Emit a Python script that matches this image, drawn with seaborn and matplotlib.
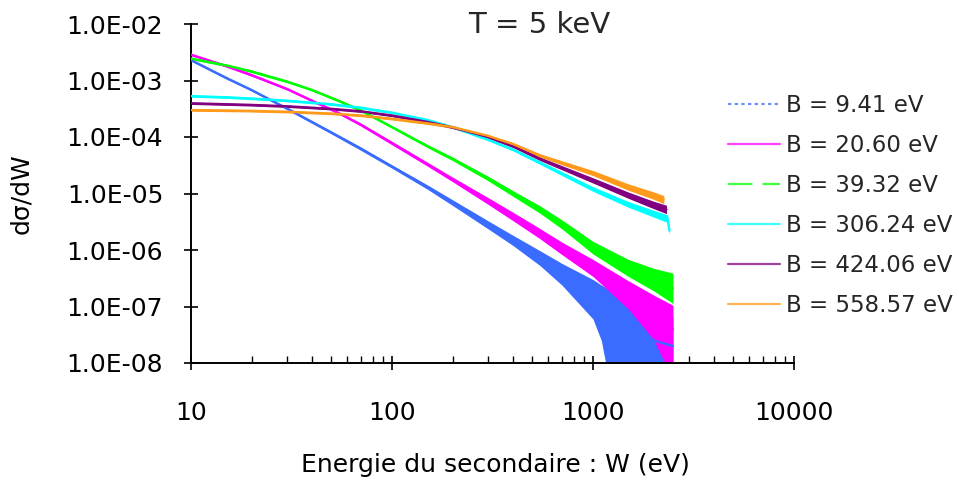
import numpy as np
import pandas as pd
import matplotlib
matplotlib.use("Agg")
import matplotlib.pyplot as plt
import seaborn as sns
from matplotlib.lines import Line2D
from matplotlib.ticker import LogLocator, FixedLocator, NullFormatter

# ---------------- data ----------------
labels = ["B = 9.41 eV", "B = 20.60 eV", "B = 39.32 eV",
          "B = 306.24 eV", "B = 424.06 eV", "B = 558.57 eV"]
colors = ["#3a6cff", "#ff00ff", "#00ff00", "#00ffff", "#800080", "#ff9a1a"]

blue_W = [10, 15, 20, 30, 50, 70, 100, 150, 200, 300, 400, 545, 700, 1000, 1100, 1200, 1500, 2000, 2500]
blue = [2.3e-3, 1.11e-3, 6.8e-4, 3.2e-4, 1.2e-4, 6.2e-5, 3.0e-5, 1.3e-5, 6.9e-6, 2.8e-6, 1.48e-6,
        7.2e-7, 3.9e-7, 1.6e-7, 1.15e-7, 8.5e-8, 4e-8, 2.5e-8, 2e-8]
blue_lo = [2.2e-3, 1.06e-3, 6.5e-4, 3.05e-4, 1.13e-4, 5.8e-5, 2.8e-5, 1.19e-5, 6.15e-6, 2.38e-6, 1.2e-6,
           5.3e-7, 2.4e-7, 6e-8, 2.5e-8, 5e-9, 5e-9, 5e-9, 5e-9]
blue_hi = [2.4e-3, 1.16e-3, 7.1e-4, 3.35e-4, 1.27e-4, 6.65e-5, 3.2e-5, 1.42e-5, 7.75e-6, 3.3e-6, 1.82e-6,
           9.7e-7, 5.8e-7, 3.0e-7, 2.4e-7, 2.0e-7, 1.2e-7, 8e-8, 6.5e-8]

mag_W = [10, 15, 20, 30, 40, 55, 70, 100, 150, 200, 300, 400, 545, 700, 1000, 1500, 2000, 2500]
mag = [2.87e-3, 1.8e-3, 1.25e-3, 7.1e-4, 4.4e-4, 2.6e-4, 1.65e-4, 7.8e-5, 3.3e-5, 1.78e-5, 7.4e-6,
       3.9e-6, 1.95e-6, 1.07e-6, 4.8e-7, 1.6e-7, 7.2e-8, 4e-8]
mag_lo = [2.74e-3, 1.72e-3, 1.19e-3, 6.8e-4, 4.2e-4, 2.48e-4, 1.56e-4, 7.28e-5, 3.05e-5, 1.62e-5, 6.45e-6,
          3.3e-6, 1.58e-6, 8.3e-7, 3.4e-7, 9e-8, 2.6e-8, 5e-9]
mag_hi = [3.0e-3, 1.88e-3, 1.31e-3, 7.45e-4, 4.6e-4, 2.72e-4, 1.75e-4, 8.35e-5, 3.57e-5, 1.95e-5, 8.5e-6,
          4.65e-6, 2.4e-6, 1.38e-6, 6.8e-7, 2.85e-7, 1.6e-7, 1.05e-7]

green_W = [10, 15, 20, 30, 40, 55, 70, 100, 150, 200, 300, 400, 545, 700, 1000, 1500, 2000, 2500]
green = [2.45e-3, 1.85e-3, 1.45e-3, 9.6e-4, 6.8e-4, 4.3e-4, 2.95e-4, 1.5e-4, 6.9e-5, 4.1e-5, 1.85e-5,
         1.0e-5, 5.2e-6, 2.85e-6, 1.1e-6, 4.8e-7, 3.0e-7, 2.1e-7]
green_lo = [2.34e-3, 1.77e-3, 1.38e-3, 9.15e-4, 6.5e-4, 4.1e-4, 2.82e-4, 1.43e-4, 6.5e-5, 3.83e-5, 1.69e-5,
            8.9e-6, 4.47e-6, 2.37e-6, 8.5e-7, 3.4e-7, 1.9e-7, 1.13e-7]
green_hi = [2.57e-3, 1.94e-3, 1.52e-3, 1.0e-3, 7.1e-4, 4.5e-4, 3.09e-4, 1.57e-4, 7.3e-5, 4.4e-5, 2.03e-5,
            1.12e-5, 6.05e-6, 3.42e-6, 1.42e-6, 6.8e-7, 4.75e-7, 3.9e-7]

cyan_W = [10, 15, 20, 30, 50, 70, 100, 150, 200, 300, 400, 545, 1000, 1500, 2000, 2350, 2400]
cyan = [5.3e-4, 5.05e-4, 4.8e-4, 4.4e-4, 3.8e-4, 3.3e-4, 2.7e-4, 2.0e-4, 1.5e-4, 9.0e-5, 6.0e-5,
        3.5e-5, 1.2e-5, 6.4e-6, 4.4e-6, 3.6e-6, 2.2e-6]
cyan_lo = [5.06e-4, 4.82e-4, 4.58e-4, 4.2e-4, 3.63e-4, 3.15e-4, 2.58e-4, 1.91e-4, 1.43e-4, 8.6e-5, 5.66e-5,
           3.27e-5, 1.09e-5, 5.7e-6, 3.83e-6, 3.06e-6, 1.83e-6]
cyan_hi = [5.55e-4, 5.29e-4, 5.03e-4, 4.61e-4, 3.98e-4, 3.46e-4, 2.83e-4, 2.09e-4, 1.57e-4, 9.4e-5, 6.35e-5,
           3.75e-5, 1.32e-5, 7.2e-6, 5.05e-6, 4.2e-6, 2.65e-6]

purple_W = [10, 20, 30, 50, 70, 100, 150, 200, 300, 400, 545, 1000, 1500, 2000, 2320]
purple = [3.95e-4, 3.7e-4, 3.5e-4, 3.15e-4, 2.85e-4, 2.4e-4, 1.85e-4, 1.48e-4, 1.0e-4, 6.9e-5, 4.1e-5,
          1.7e-5, 9.3e-6, 6.3e-6, 5.2e-6]
purple_lo = [3.77e-4, 3.53e-4, 3.34e-4, 3.01e-4, 2.72e-4, 2.29e-4, 1.77e-4, 1.41e-4, 9.55e-5, 6.5e-5, 3.83e-5,
             1.53e-5, 8.2e-6, 5.4e-6, 4.4e-6]
purple_hi = [4.14e-4, 3.87e-4, 3.66e-4, 3.3e-4, 2.98e-4, 2.51e-4, 1.94e-4, 1.55e-4, 1.05e-4, 7.3e-5, 4.4e-5,
             1.9e-5, 1.06e-5, 7.3e-6, 6.2e-6]

orange_W = [10, 20, 30, 50, 70, 100, 150, 200, 300, 400, 545, 1000, 1500, 2000, 2250]
orange = [3.0e-4, 2.9e-4, 2.8e-4, 2.6e-4, 2.4e-4, 2.1e-4, 1.75e-4, 1.5e-4, 1.05e-4, 7.5e-5, 4.7e-5,
          2.3e-5, 1.3e-5, 9.2e-6, 7.8e-6]
orange_lo = [2.86e-4, 2.77e-4, 2.67e-4, 2.48e-4, 2.29e-4, 2.0e-4, 1.67e-4, 1.43e-4, 1.0e-4, 7.08e-5, 4.39e-5,
             2.07e-5, 1.14e-5, 7.9e-6, 6.6e-6]
orange_hi = [3.14e-4, 3.04e-4, 2.93e-4, 2.72e-4, 2.51e-4, 2.2e-4, 1.83e-4, 1.57e-4, 1.1e-4, 7.95e-5, 5.03e-5,
             2.55e-5, 1.48e-5, 1.07e-5, 9.2e-6]

x_ticks = [10, 100, 1000, 10000]
x_ticklabels = ["10", "100", "1000", "10000"]
y_ticks = [1e-8, 1e-7, 1e-6, 1e-5, 1e-4, 1e-3, 1e-2]
y_ticklabels = ["1.0E-08", "1.0E-07", "1.0E-06", "1.0E-05", "1.0E-04", "1.0E-03", "1.0E-02"]

series = [
    (blue_W, blue, blue_lo, blue_hi),
    (mag_W, mag, mag_lo, mag_hi),
    (green_W, green, green_lo, green_hi),
    (cyan_W, cyan, cyan_lo, cyan_hi),
    (purple_W, purple, purple_lo, purple_hi),
    (orange_W, orange, orange_lo, orange_hi),
]

rows = []
for lab, (W, v, lo, hi) in zip(labels, series):
    for w, val in zip(W, v):
        rows.append({"W": w, "val": val, "serie": lab})
df = pd.DataFrame(rows)

# ---------------- figure ----------------
sns.set_style("ticks")
plt.rcParams["font.family"] = ["DejaVu Sans"]
fig = plt.figure(figsize=(9.59, 4.84), dpi=100)
ax = fig.add_axes([191 / 959, (484 - 363) / 484, 603 / 959, 339 / 484])

ax.set_xscale("log")
ax.set_yscale("log")

for lab, col, (W, v, lo, hi) in zip(labels, colors, series):
    ax.fill_between(W, lo, hi, color=col, lw=0, zorder=2)
    sns.lineplot(data=df[df["serie"] == lab], x="W", y="val", color=col,
                 lw=1.7, estimator=None, sort=False, ax=ax, legend=False, zorder=3)

ax.set_xlim(10, 10000)
ax.set_ylim(1e-8, 1e-2)

ax.xaxis.set_major_locator(FixedLocator(x_ticks))
ax.set_xticklabels(x_ticklabels)
ax.yaxis.set_major_locator(FixedLocator(y_ticks))
ax.set_yticklabels(y_ticklabels)
ax.xaxis.set_minor_locator(LogLocator(base=10, subs=np.arange(2, 10)))
ax.yaxis.set_minor_locator(LogLocator(base=10, subs=np.arange(2, 10)))
ax.xaxis.set_minor_formatter(NullFormatter())
ax.yaxis.set_minor_formatter(NullFormatter())

ax.tick_params(axis="both", which="major", direction="inout", length=10, width=1.2,
               color="black", labelsize=18, labelcolor="black")
ax.tick_params(axis="x", which="major", pad=22)
ax.tick_params(axis="y", which="major", pad=15)
ax.tick_params(axis="both", which="minor", direction="in", length=5, width=1.0, color="black")

sns.despine(ax=ax)
for s in ["left", "bottom"]:
    ax.spines[s].set_color("black")
    ax.spines[s].set_linewidth(1.4)

ax.set_xlabel("Energie du secondaire : W (eV)", fontsize=18, color="black")
ax.set_ylabel("dσ/dW", fontsize=18, color="black")
ax.xaxis.set_label_coords(0.505, -0.265)
ax.yaxis.set_label_coords(-0.262, 0.5)

fig.text(539 / 959, 1 - 25 / 484, "T = 5 keV", fontsize=21, ha="center", va="center")

handles = [
    Line2D([], [], color=colors[0], lw=1.6, ls=(0, (1.5, 1.5)), alpha=0.75),
    Line2D([], [], color=colors[1], lw=1.6, alpha=0.75),
    Line2D([], [], color=colors[2], lw=1.6, ls=(0, (11, 4.5)), alpha=0.75),
    Line2D([], [], color=colors[3], lw=1.6, alpha=0.75),
    Line2D([], [], color=colors[4], lw=1.6, alpha=0.75),
    Line2D([], [], color=colors[5], lw=1.6, alpha=0.75),
]
fig.legend(handles, labels, loc="upper left", bbox_to_anchor=(728 / 959, 1 - 94 / 484),
           frameon=False, fontsize=16.5, handlelength=2.25, handletextpad=0.3,
           labelspacing=0.74, borderpad=0, borderaxespad=0)

fig.savefig("out.png", dpi=100)
